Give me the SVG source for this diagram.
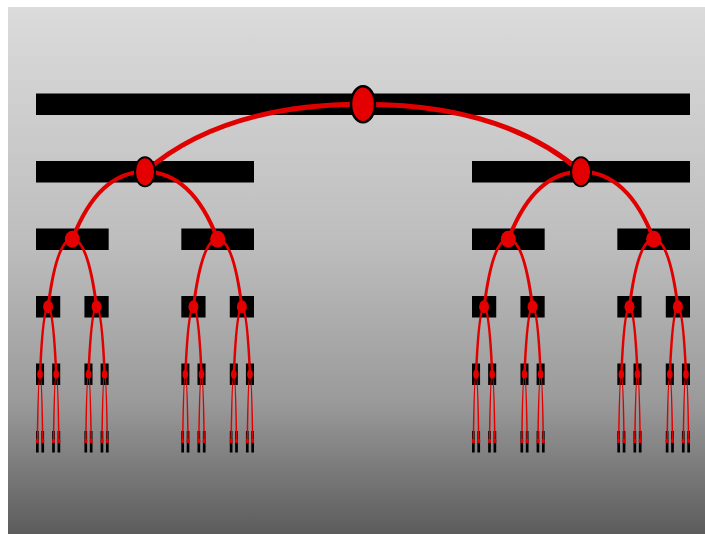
<svg xmlns="http://www.w3.org/2000/svg" width="705" height="534" viewBox="0 0 705 534">
<defs>
<linearGradient id="bg" x1="0" y1="0" x2="0" y2="1">
<stop offset="0" stop-color="#dbdbdb"/>
<stop offset="0.45" stop-color="#bdbdbd"/>
<stop offset="0.75" stop-color="#9a9a9a"/>
<stop offset="1" stop-color="#5c5c5c"/>
</linearGradient>
<style>
.bar{fill:#000}
.a{fill:none;stroke:#e00000;stroke-linecap:round}
.a0{stroke-width:5}
.a1{stroke-width:4}
.a2{stroke-width:3}
.a3{stroke-width:2.5}
.a4{stroke-width:1.5}
.d{fill:#e40000}
.d0{stroke:#000;stroke-width:2.5}
.d1{stroke:#000;stroke-width:2}
</style>
</defs>
<rect x="0" y="0" width="705" height="534" fill="#ffffff"/>
<rect x="8" y="7" width="697" height="527" fill="url(#bg)"/>
<g id="segments">
<rect class="bar" x="36" y="93.5" width="654" height="21.5"/>
<rect class="bar" x="36" y="161" width="218" height="21.5"/>
<rect class="bar" x="472" y="161" width="218" height="21.5"/>
<g>
<rect class="bar" x="36" y="228.5" width="72.67" height="21.5"/>
<rect class="bar" x="181.33" y="228.5" width="72.67" height="21.5"/>
<rect class="bar" x="472" y="228.5" width="72.67" height="21.5"/>
<rect class="bar" x="617.33" y="228.5" width="72.67" height="21.5"/>
</g>
<g>
<rect class="bar" x="36" y="296" width="24.22" height="21.5"/>
<rect class="bar" x="84.44" y="296" width="24.22" height="21.5"/>
<rect class="bar" x="181.33" y="296" width="24.22" height="21.5"/>
<rect class="bar" x="229.78" y="296" width="24.22" height="21.5"/>
<rect class="bar" x="472" y="296" width="24.22" height="21.5"/>
<rect class="bar" x="520.44" y="296" width="24.22" height="21.5"/>
<rect class="bar" x="617.33" y="296" width="24.22" height="21.5"/>
<rect class="bar" x="665.78" y="296" width="24.22" height="21.5"/>
</g>
<g>
<rect class="bar" x="36" y="363.5" width="8.07" height="21.5"/>
<rect class="bar" x="52.15" y="363.5" width="8.07" height="21.5"/>
<rect class="bar" x="84.44" y="363.5" width="8.07" height="21.5"/>
<rect class="bar" x="100.59" y="363.5" width="8.07" height="21.5"/>
<rect class="bar" x="181.33" y="363.5" width="8.07" height="21.5"/>
<rect class="bar" x="197.48" y="363.5" width="8.07" height="21.5"/>
<rect class="bar" x="229.78" y="363.5" width="8.07" height="21.5"/>
<rect class="bar" x="245.93" y="363.5" width="8.07" height="21.5"/>
<rect class="bar" x="472" y="363.5" width="8.07" height="21.5"/>
<rect class="bar" x="488.15" y="363.5" width="8.07" height="21.5"/>
<rect class="bar" x="520.44" y="363.5" width="8.07" height="21.5"/>
<rect class="bar" x="536.59" y="363.5" width="8.07" height="21.5"/>
<rect class="bar" x="617.33" y="363.5" width="8.07" height="21.5"/>
<rect class="bar" x="633.48" y="363.5" width="8.07" height="21.5"/>
<rect class="bar" x="665.78" y="363.5" width="8.07" height="21.5"/>
<rect class="bar" x="681.93" y="363.5" width="8.07" height="21.5"/>
</g>
<g>
<rect class="bar" x="36" y="431" width="2.69" height="21.5"/>
<rect class="bar" x="41.38" y="431" width="2.69" height="21.5"/>
<rect class="bar" x="52.15" y="431" width="2.69" height="21.5"/>
<rect class="bar" x="57.53" y="431" width="2.69" height="21.5"/>
<rect class="bar" x="84.44" y="431" width="2.69" height="21.5"/>
<rect class="bar" x="89.82" y="431" width="2.69" height="21.5"/>
<rect class="bar" x="100.59" y="431" width="2.69" height="21.5"/>
<rect class="bar" x="105.97" y="431" width="2.69" height="21.5"/>
<rect class="bar" x="181.33" y="431" width="2.69" height="21.5"/>
<rect class="bar" x="186.71" y="431" width="2.69" height="21.5"/>
<rect class="bar" x="197.48" y="431" width="2.69" height="21.5"/>
<rect class="bar" x="202.86" y="431" width="2.69" height="21.5"/>
<rect class="bar" x="229.78" y="431" width="2.69" height="21.5"/>
<rect class="bar" x="235.16" y="431" width="2.69" height="21.5"/>
<rect class="bar" x="245.93" y="431" width="2.69" height="21.5"/>
<rect class="bar" x="251.31" y="431" width="2.69" height="21.5"/>
<rect class="bar" x="472" y="431" width="2.69" height="21.5"/>
<rect class="bar" x="477.38" y="431" width="2.69" height="21.5"/>
<rect class="bar" x="488.15" y="431" width="2.69" height="21.5"/>
<rect class="bar" x="493.53" y="431" width="2.69" height="21.5"/>
<rect class="bar" x="520.44" y="431" width="2.69" height="21.5"/>
<rect class="bar" x="525.82" y="431" width="2.69" height="21.5"/>
<rect class="bar" x="536.59" y="431" width="2.69" height="21.5"/>
<rect class="bar" x="541.97" y="431" width="2.69" height="21.5"/>
<rect class="bar" x="617.33" y="431" width="2.69" height="21.5"/>
<rect class="bar" x="622.71" y="431" width="2.69" height="21.5"/>
<rect class="bar" x="633.48" y="431" width="2.69" height="21.5"/>
<rect class="bar" x="638.86" y="431" width="2.69" height="21.5"/>
<rect class="bar" x="665.78" y="431" width="2.69" height="21.5"/>
<rect class="bar" x="671.16" y="431" width="2.69" height="21.5"/>
<rect class="bar" x="681.93" y="431" width="2.69" height="21.5"/>
<rect class="bar" x="687.31" y="431" width="2.69" height="21.5"/>
</g>
</g>
<g id="connectors">
<path class="a a0" d="M145,171.75 C199.5,124.5 275.8,104.25 363,104.25 C450.2,104.25 526.5,124.5 581,171.75"/>
<path class="a a1" d="M72.33,239.25 c18.17,-47.25 43.6,-67.5 72.67,-67.5 c29.07,0 54.5,20.25 72.67,67.5"/>
<path class="a a1" d="M508.33,239.25 c18.17,-47.25 43.6,-67.5 72.67,-67.5 c29.07,0 54.5,20.25 72.67,67.5"/>
<path class="a a2" d="M48.11,306.75 c6.05,-47.25 14.53,-67.5 24.22,-67.5 c9.69,0 18.17,20.25 24.22,67.5"/>
<path class="a a2" d="M193.44,306.75 c6.05,-47.25 14.53,-67.5 24.22,-67.5 c9.69,0 18.17,20.25 24.22,67.5"/>
<path class="a a2" d="M484.11,306.75 c6.05,-47.25 14.53,-67.5 24.22,-67.5 c9.69,0 18.17,20.25 24.22,67.5"/>
<path class="a a2" d="M629.44,306.75 c6.05,-47.25 14.53,-67.5 24.22,-67.5 c9.69,0 18.17,20.25 24.22,67.5"/>
<path class="a a3" d="M40.04,374.25 c2.01,-47.25 4.84,-67.5 8.07,-67.5 c3.23,0 6.06,20.25 8.07,67.5"/>
<path class="a a3" d="M88.49,374.25 c2.01,-47.25 4.84,-67.5 8.07,-67.5 c3.23,0 6.06,20.25 8.07,67.5"/>
<path class="a a3" d="M185.37,374.25 c2.01,-47.25 4.84,-67.5 8.07,-67.5 c3.23,0 6.06,20.25 8.07,67.5"/>
<path class="a a3" d="M233.82,374.25 c2.01,-47.25 4.84,-67.5 8.07,-67.5 c3.23,0 6.06,20.25 8.07,67.5"/>
<path class="a a3" d="M476.04,374.25 c2.01,-47.25 4.84,-67.5 8.07,-67.5 c3.23,0 6.06,20.25 8.07,67.5"/>
<path class="a a3" d="M524.49,374.25 c2.01,-47.25 4.84,-67.5 8.07,-67.5 c3.23,0 6.06,20.25 8.07,67.5"/>
<path class="a a3" d="M621.37,374.25 c2.01,-47.25 4.84,-67.5 8.07,-67.5 c3.23,0 6.06,20.25 8.07,67.5"/>
<path class="a a3" d="M669.82,374.25 c2.01,-47.25 4.84,-67.5 8.07,-67.5 c3.23,0 6.06,20.25 8.07,67.5"/>
<path class="a a4" d="M37.35,441.75 c0.67,-47.25 1.61,-67.5 2.69,-67.5 c1.08,0 2.02,20.25 2.69,67.5"/>
<path class="a a4" d="M53.49,441.75 c0.67,-47.25 1.61,-67.5 2.69,-67.5 c1.08,0 2.02,20.25 2.69,67.5"/>
<path class="a a4" d="M85.8,441.75 c0.67,-47.25 1.61,-67.5 2.69,-67.5 c1.08,0 2.02,20.25 2.69,67.5"/>
<path class="a a4" d="M101.94,441.75 c0.67,-47.25 1.61,-67.5 2.69,-67.5 c1.08,0 2.02,20.25 2.69,67.5"/>
<path class="a a4" d="M182.68,441.75 c0.67,-47.25 1.61,-67.5 2.69,-67.5 c1.08,0 2.02,20.25 2.69,67.5"/>
<path class="a a4" d="M198.82,441.75 c0.67,-47.25 1.61,-67.5 2.69,-67.5 c1.08,0 2.02,20.25 2.69,67.5"/>
<path class="a a4" d="M231.13,441.75 c0.67,-47.25 1.61,-67.5 2.69,-67.5 c1.08,0 2.02,20.25 2.69,67.5"/>
<path class="a a4" d="M247.27,441.75 c0.67,-47.25 1.61,-67.5 2.69,-67.5 c1.08,0 2.02,20.25 2.69,67.5"/>
<path class="a a4" d="M473.35,441.75 c0.67,-47.25 1.61,-67.5 2.69,-67.5 c1.08,0 2.02,20.25 2.69,67.5"/>
<path class="a a4" d="M489.49,441.75 c0.67,-47.25 1.61,-67.5 2.69,-67.5 c1.08,0 2.02,20.25 2.69,67.5"/>
<path class="a a4" d="M521.8,441.75 c0.67,-47.25 1.61,-67.5 2.69,-67.5 c1.08,0 2.02,20.25 2.69,67.5"/>
<path class="a a4" d="M537.94,441.75 c0.67,-47.25 1.61,-67.5 2.69,-67.5 c1.08,0 2.02,20.25 2.69,67.5"/>
<path class="a a4" d="M618.68,441.75 c0.67,-47.25 1.61,-67.5 2.69,-67.5 c1.08,0 2.02,20.25 2.69,67.5"/>
<path class="a a4" d="M634.82,441.75 c0.67,-47.25 1.61,-67.5 2.69,-67.5 c1.08,0 2.02,20.25 2.69,67.5"/>
<path class="a a4" d="M667.13,441.75 c0.67,-47.25 1.61,-67.5 2.69,-67.5 c1.08,0 2.02,20.25 2.69,67.5"/>
<path class="a a4" d="M683.27,441.75 c0.67,-47.25 1.61,-67.5 2.69,-67.5 c1.08,0 2.02,20.25 2.69,67.5"/>
</g>
<g id="n0"><ellipse class="d d0" cx="363" cy="104.25" rx="12" ry="18"/></g>
<g id="n1-0"><ellipse class="d d1" cx="145" cy="171.75" rx="10" ry="14.5"/></g>
<g id="n1-1"><ellipse class="d d1" cx="581" cy="171.75" rx="10" ry="14.5"/></g>
<g id="n2-0"><ellipse class="d" cx="72.33" cy="239.25" rx="7.5" ry="8.5"/></g>
<g id="n2-1"><ellipse class="d" cx="217.67" cy="239.25" rx="7.5" ry="8.5"/></g>
<g id="n2-2"><ellipse class="d" cx="508.33" cy="239.25" rx="7.5" ry="8.5"/></g>
<g id="n2-3"><ellipse class="d" cx="653.67" cy="239.25" rx="7.5" ry="8.5"/></g>
<g id="n3-0"><ellipse class="d" cx="48.11" cy="306.75" rx="5" ry="6.5"/></g>
<g id="n3-1"><ellipse class="d" cx="96.56" cy="306.75" rx="5" ry="6.5"/></g>
<g id="n3-2"><ellipse class="d" cx="193.44" cy="306.75" rx="5" ry="6.5"/></g>
<g id="n3-3"><ellipse class="d" cx="241.89" cy="306.75" rx="5" ry="6.5"/></g>
<g id="n3-4"><ellipse class="d" cx="484.11" cy="306.75" rx="5" ry="6.5"/></g>
<g id="n3-5"><ellipse class="d" cx="532.56" cy="306.75" rx="5" ry="6.5"/></g>
<g id="n3-6"><ellipse class="d" cx="629.44" cy="306.75" rx="5" ry="6.5"/></g>
<g id="n3-7"><ellipse class="d" cx="677.89" cy="306.75" rx="5" ry="6.5"/></g>
<g id="n4-0"><ellipse class="d" cx="40.04" cy="374.25" rx="2.8" ry="4.5"/></g>
<g id="n4-1"><ellipse class="d" cx="56.18" cy="374.25" rx="2.8" ry="4.5"/></g>
<g id="n4-2"><ellipse class="d" cx="88.49" cy="374.25" rx="2.8" ry="4.5"/></g>
<g id="n4-3"><ellipse class="d" cx="104.63" cy="374.25" rx="2.8" ry="4.5"/></g>
<g id="n4-4"><ellipse class="d" cx="185.37" cy="374.25" rx="2.8" ry="4.5"/></g>
<g id="n4-5"><ellipse class="d" cx="201.51" cy="374.25" rx="2.8" ry="4.5"/></g>
<g id="n4-6"><ellipse class="d" cx="233.82" cy="374.25" rx="2.8" ry="4.5"/></g>
<g id="n4-7"><ellipse class="d" cx="249.96" cy="374.25" rx="2.8" ry="4.5"/></g>
<g id="n4-8"><ellipse class="d" cx="476.04" cy="374.25" rx="2.8" ry="4.5"/></g>
<g id="n4-9"><ellipse class="d" cx="492.18" cy="374.25" rx="2.8" ry="4.5"/></g>
<g id="n4-10"><ellipse class="d" cx="524.49" cy="374.25" rx="2.8" ry="4.5"/></g>
<g id="n4-11"><ellipse class="d" cx="540.63" cy="374.25" rx="2.8" ry="4.5"/></g>
<g id="n4-12"><ellipse class="d" cx="621.37" cy="374.25" rx="2.8" ry="4.5"/></g>
<g id="n4-13"><ellipse class="d" cx="637.51" cy="374.25" rx="2.8" ry="4.5"/></g>
<g id="n4-14"><ellipse class="d" cx="669.82" cy="374.25" rx="2.8" ry="4.5"/></g>
<g id="n4-15"><ellipse class="d" cx="685.96" cy="374.25" rx="2.8" ry="4.5"/></g>
<g id="n5-0"><ellipse class="d" cx="37.35" cy="441" rx="1.6" ry="2.2"/></g>
<g id="n5-1"><ellipse class="d" cx="42.73" cy="441" rx="1.6" ry="2.2"/></g>
<g id="n5-2"><ellipse class="d" cx="53.49" cy="441" rx="1.6" ry="2.2"/></g>
<g id="n5-3"><ellipse class="d" cx="58.88" cy="441" rx="1.6" ry="2.2"/></g>
<g id="n5-4"><ellipse class="d" cx="85.79" cy="441" rx="1.6" ry="2.2"/></g>
<g id="n5-5"><ellipse class="d" cx="91.17" cy="441" rx="1.6" ry="2.2"/></g>
<g id="n5-6"><ellipse class="d" cx="101.94" cy="441" rx="1.6" ry="2.2"/></g>
<g id="n5-7"><ellipse class="d" cx="107.32" cy="441" rx="1.6" ry="2.2"/></g>
<g id="n5-8"><ellipse class="d" cx="182.68" cy="441" rx="1.6" ry="2.2"/></g>
<g id="n5-9"><ellipse class="d" cx="188.06" cy="441" rx="1.6" ry="2.2"/></g>
<g id="n5-10"><ellipse class="d" cx="198.83" cy="441" rx="1.6" ry="2.2"/></g>
<g id="n5-11"><ellipse class="d" cx="204.21" cy="441" rx="1.6" ry="2.2"/></g>
<g id="n5-12"><ellipse class="d" cx="231.12" cy="441" rx="1.6" ry="2.2"/></g>
<g id="n5-13"><ellipse class="d" cx="236.51" cy="441" rx="1.6" ry="2.2"/></g>
<g id="n5-14"><ellipse class="d" cx="247.27" cy="441" rx="1.6" ry="2.2"/></g>
<g id="n5-15"><ellipse class="d" cx="252.65" cy="441" rx="1.6" ry="2.2"/></g>
<g id="n5-16"><ellipse class="d" cx="473.35" cy="441" rx="1.6" ry="2.2"/></g>
<g id="n5-17"><ellipse class="d" cx="478.73" cy="441" rx="1.6" ry="2.2"/></g>
<g id="n5-18"><ellipse class="d" cx="489.49" cy="441" rx="1.6" ry="2.2"/></g>
<g id="n5-19"><ellipse class="d" cx="494.88" cy="441" rx="1.6" ry="2.2"/></g>
<g id="n5-20"><ellipse class="d" cx="521.79" cy="441" rx="1.6" ry="2.2"/></g>
<g id="n5-21"><ellipse class="d" cx="527.17" cy="441" rx="1.6" ry="2.2"/></g>
<g id="n5-22"><ellipse class="d" cx="537.94" cy="441" rx="1.6" ry="2.2"/></g>
<g id="n5-23"><ellipse class="d" cx="543.32" cy="441" rx="1.6" ry="2.2"/></g>
<g id="n5-24"><ellipse class="d" cx="618.68" cy="441" rx="1.6" ry="2.2"/></g>
<g id="n5-25"><ellipse class="d" cx="624.06" cy="441" rx="1.6" ry="2.2"/></g>
<g id="n5-26"><ellipse class="d" cx="634.83" cy="441" rx="1.6" ry="2.2"/></g>
<g id="n5-27"><ellipse class="d" cx="640.21" cy="441" rx="1.6" ry="2.2"/></g>
<g id="n5-28"><ellipse class="d" cx="667.12" cy="441" rx="1.6" ry="2.2"/></g>
<g id="n5-29"><ellipse class="d" cx="672.51" cy="441" rx="1.6" ry="2.2"/></g>
<g id="n5-30"><ellipse class="d" cx="683.27" cy="441" rx="1.6" ry="2.2"/></g>
<g id="n5-31"><ellipse class="d" cx="688.65" cy="441" rx="1.6" ry="2.2"/></g>
</svg>
